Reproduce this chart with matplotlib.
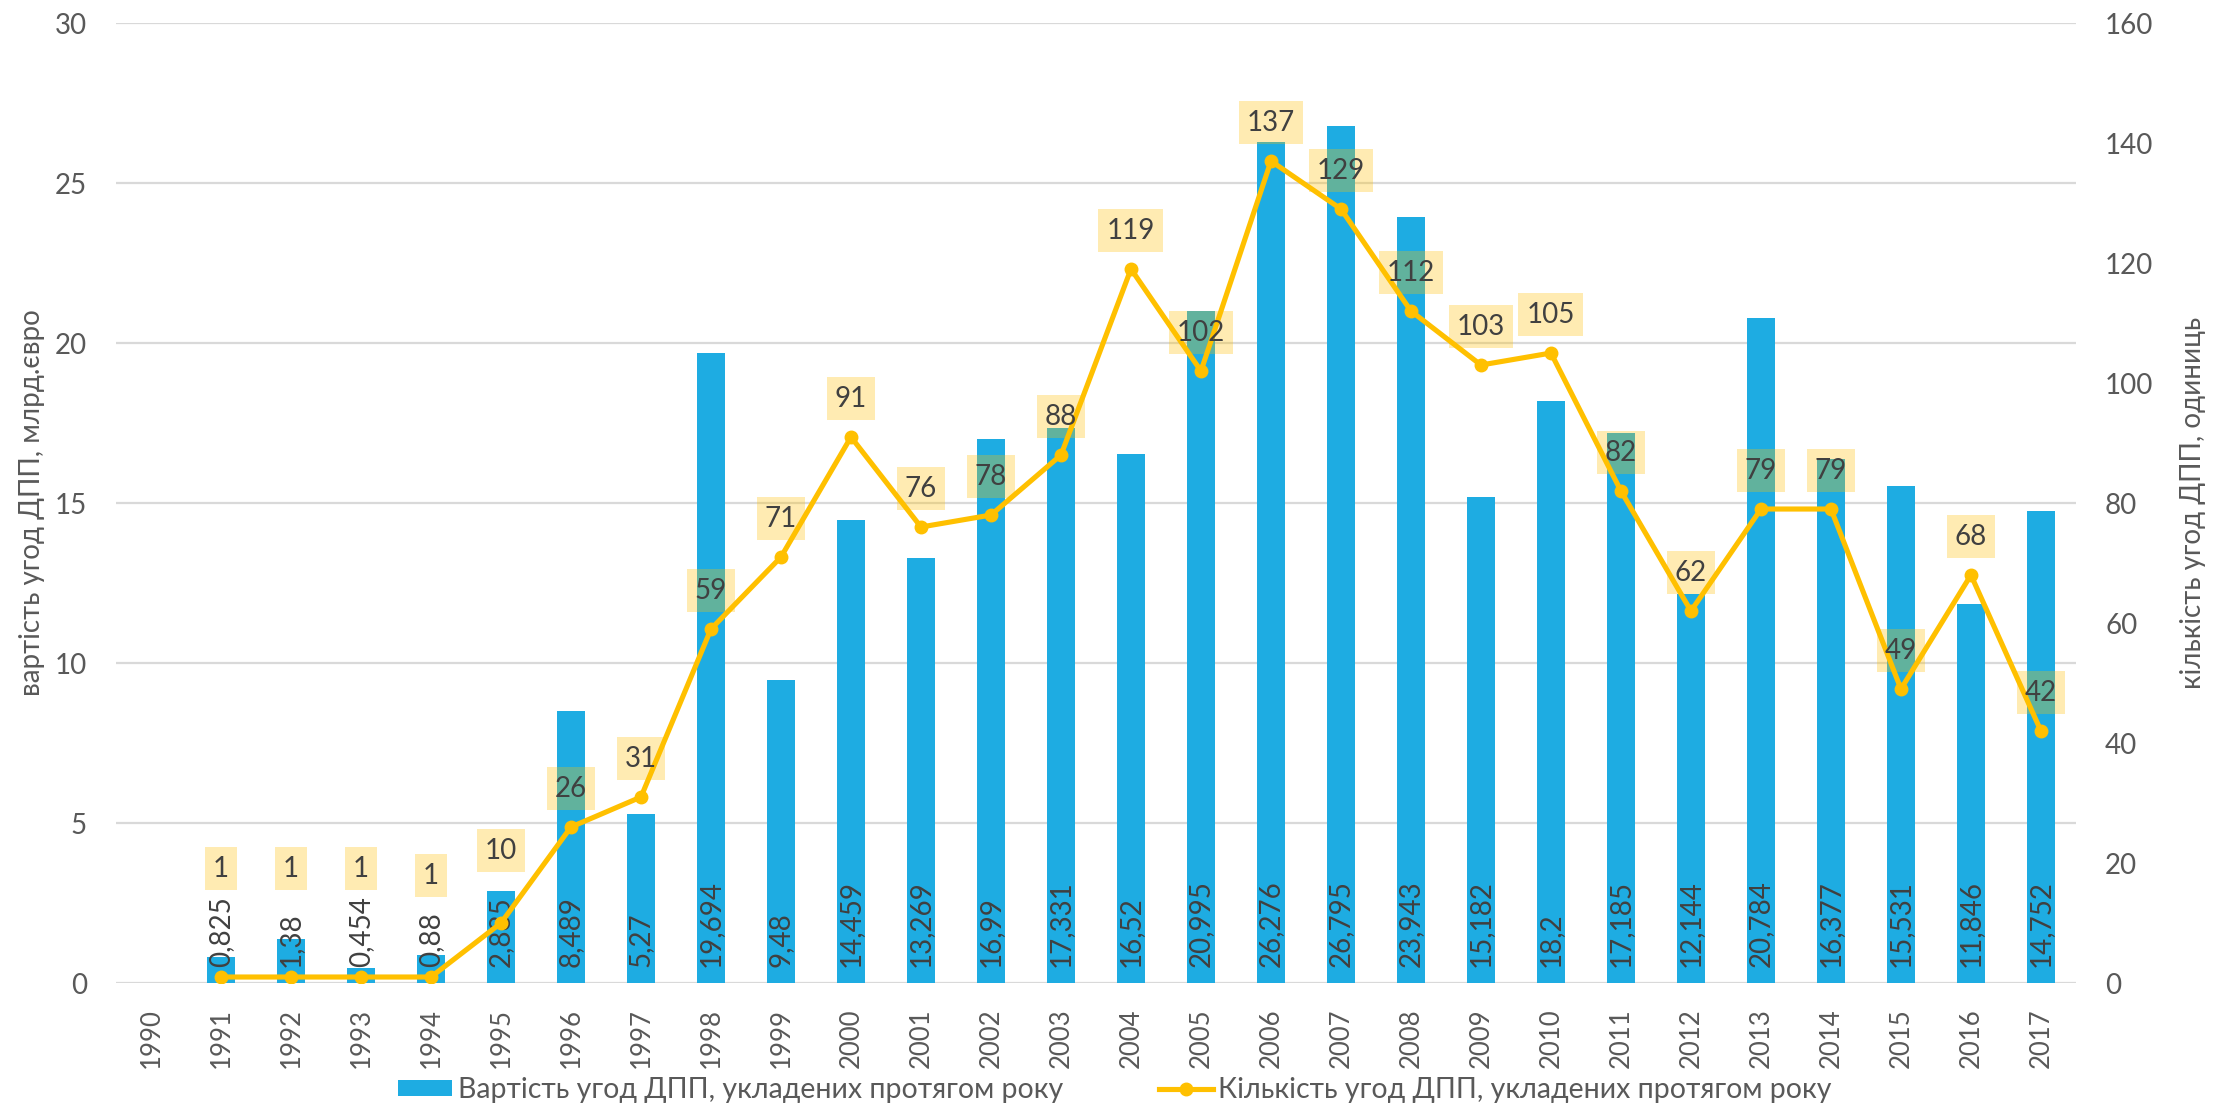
import matplotlib
matplotlib.use("Agg")
import matplotlib.pyplot as plt
from matplotlib.lines import Line2D
from matplotlib.patches import Patch

plt.rcParams['font.family'] = ['Lato', 'DejaVu Sans']

years = [str(y) for y in range(1990, 2018)]
value_bn = [None, 0.825, 1.38, 0.454, 0.88, 2.885, 8.489, 5.27, 19.694, 9.48,
            14.459, 13.269, 16.99, 17.331, 16.52, 20.995, 26.276, 26.795,
            23.943, 15.182, 18.2, 17.185, 12.144, 20.784, 16.377, 15.531,
            11.846, 14.752]
count_deals = [None, 1, 1, 1, 1, 10, 26, 31, 59, 71, 91, 76, 78, 88, 119, 102,
               137, 129, 112, 103, 105, 82, 62, 79, 79, 49, 68, 42]

bar_label = "Вартість угод ДПП, укладених протягом року"
line_label = "Кількість угод ДПП, укладених протягом року"
ylabel_left = "вартість угод ДПП, млрд.євро"
ylabel_right = "кількість угод ДПП, одиниць"

BAR_C = "#1EACE2"
LINE_C = "#FFC000"
TICK_C = "#595959"
TXT_C = "#404040"
FS = 20

fig = plt.figure(figsize=(22.29, 11.07), dpi=100)
ax = fig.add_axes([0.05204, 0.1120, 0.8793, 0.8672])
ax2 = ax.twinx()

x = list(range(len(years)))
bx = [i for i, v in zip(x, value_bn) if v is not None]
bv = [v for v in value_bn if v is not None]
ax.bar(bx, bv, width=0.4, color=BAR_C, zorder=2)
ax.set_ylim(0, 30)
ax.set_xlim(-0.5, len(years) - 0.5)
ax.set_yticks(range(0, 31, 5))
ax.grid(axis='y', color='#D9D9D9', linewidth=1.6, zorder=0)
ax.set_axisbelow(True)
ax.set_xticks(x)
ax.set_xticklabels(years, rotation=90)
ax.tick_params(axis='x', length=0, pad=18, labelsize=18.5, labelcolor=TICK_C)
ax.tick_params(axis='y', length=0, pad=21, labelsize=FS, labelcolor=TICK_C)
for s in ax.spines.values():
    s.set_visible(False)
for s in ax2.spines.values():
    s.set_visible(False)

for xi, v in zip(bx, bv):
    ax.annotate(f"{v:g}".replace('.', ','), (xi, 0), xytext=(0, 11.5),
                textcoords='offset points', rotation=90, ha='center',
                va='bottom', fontsize=FS, color=TXT_C, zorder=3)

lx = [i for i, v in zip(x, count_deals) if v is not None]
lv = [v for v in count_deals if v is not None]
ax2.plot(lx, lv, color=LINE_C, linewidth=3.7, marker='o', markersize=9,
         zorder=4)
ax2.set_ylim(0, 160)
ax2.set_yticks(range(0, 161, 20))
ax2.tick_params(axis='y', length=0, pad=21, labelsize=FS, labelcolor=TICK_C)

# label offsets above points (points); a few labels were raised in the original
offsets = {1: 78, 2: 78, 3: 78, 4: 73, 5: 52}
for xi, v in zip(lx, lv):
    off = offsets.get(xi, 27.5)
    ax2.annotate(str(v), (xi, v), xytext=(0, off), textcoords='offset points',
                 ha='center', va='center', fontsize=FS, color=TXT_C, zorder=5,
                 bbox=dict(boxstyle='square,pad=0.3', facecolor=LINE_C,
                           alpha=0.3, edgecolor='none'))

fig.text(0.0144, 0.546, ylabel_left, rotation=90, ha='center', va='center',
         fontsize=FS, color=TICK_C)
fig.text(0.9838, 0.546, ylabel_right, rotation=90, ha='center', va='center',
         fontsize=FS, color=TICK_C)

handles = [Patch(facecolor=BAR_C, edgecolor='none'),
           Line2D([0], [0], color=LINE_C, linewidth=3.7, marker='o',
                  markersize=9)]
leg = fig.legend(handles, [bar_label, line_label], loc='center',
                 bbox_to_anchor=(0.5002, 0.0154), ncol=2, frameon=False,
                 fontsize=20.5, handlelength=1.9, handleheight=0.5,
                 handletextpad=0.2, columnspacing=3.35, borderaxespad=0)
for t in leg.get_texts():
    t.set_color(TICK_C)

fig.savefig("out.png", dpi=100, facecolor='white')
